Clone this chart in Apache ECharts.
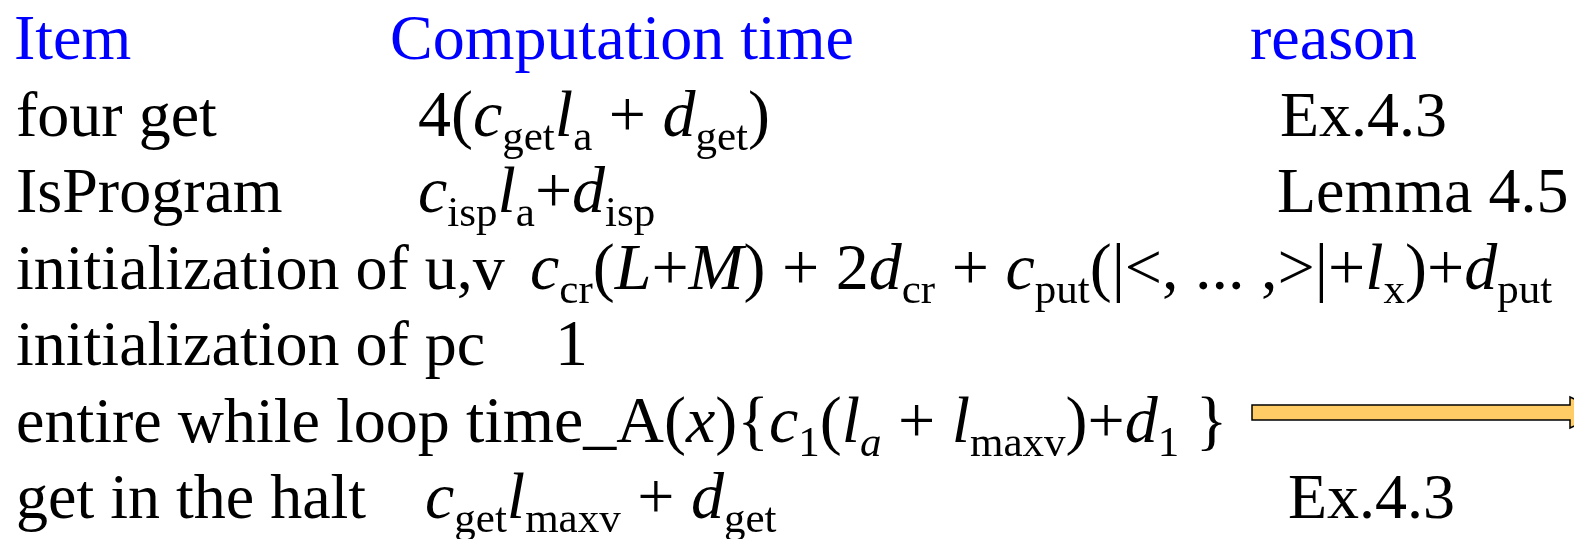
<!DOCTYPE html>
<html>
<head>
<meta charset="utf-8">
<title>Computation time table</title>
<script src="https://cdn.jsdelivr.net/npm/echarts@6/dist/echarts.min.js"></script>
<style>
    html, body { margin: 0; padding: 0; background: #fff; }
    #main { width: 1574px; height: 539px; }
</style>
</head>
<body>
<div id="main"></div>
<script>
// Table content
var headers = ['Item', 'Computation time', 'reason'];

var items = [
    'four get',
    'IsProgram',
    'initialization of u,v',
    'initialization of pc',
    'entire while loop',
    'get in the halt'
];

// formula pieces: [text, kind]  r = roman, i = italic, s = subscript
var times = [
    [['4(', 'r'], ['c', 'i'], ['get', 's'], ['l', 'i'], ['a', 's'], [' + ', 'r'], ['d', 'i'], ['get', 's'], [')', 'r']],
    [['c', 'i'], ['isp', 's'], ['l', 'i'], ['a', 's'], ['+', 'r'], ['d', 'i'], ['isp', 's']],
    [['c', 'i'], ['cr', 's'], ['(', 'r'], ['L', 'i'], ['+', 'r'], ['M', 'i'], [') + 2', 'r'], ['d', 'i'], ['cr', 's'],
        [' + ', 'r'], ['c', 'i'], ['put', 's'], ['(|<, ... ,>|+', 'r'], ['l', 'i'], ['x', 's'], [')+', 'r'], ['d', 'i'], ['put', 's']],
    [['1', 'r']],
    [['time_A(', 'r'], ['x', 'i'], ['){', 'r'], ['c', 'i'], ['1', 's'], ['(', 'r'], ['l', 'i'], ['a', 'si'], [' + ', 'r'],
        ['l', 'i'], ['maxv', 's'], [')+', 'r'], ['d', 'i'], ['1', 's'], [' }', 'r']],
    [['c', 'i'], ['get', 's'], ['l', 'i'], ['maxv', 's'], [' + ', 'r'], ['d', 'i'], ['get', 's']]
];

var reasons = ['Ex.4.3', 'Lemma 4.5', '', '', '', 'Ex.4.3'];

// Layout
var FAMILY = "'Liberation Serif', 'Times New Roman', serif";
var TEXT_SIZE = 64;
var FORMULA_SIZE = 66;
var SUB_SIZE = 43;
var SUB_DROP = 14;
var headerX = [14, 390, 1250];
var itemX = 16;
var timeX = [418, 418, 530, 555, 466, 425];
var reasonX = [1280, 1277, 0, 0, 0, 1288];
var firstBaseline = 59;
var rowStep = 76.5;

var measureCtx = document.createElement('canvas').getContext('2d');

function fontFor(kind) {
    var italic = kind === 'i' || kind === 'si';
    var size = (kind === 's' || kind === 'si') ? SUB_SIZE : FORMULA_SIZE;
    return (italic ? 'italic ' : '') + size + 'px ' + FAMILY;
}

function textWidth(text, font) {
    measureCtx.font = font;
    return measureCtx.measureText(text).width;
}

// zrender draws with textBaseline 'middle', so shift it to sit on the baseline
function middleToBaseline(font) {
    measureCtx.font = font;
    measureCtx.textBaseline = 'middle';
    return measureCtx.measureText('H').actualBoundingBoxDescent;
}

function textEl(text, x, baseline, font, color) {
    return {
        type: 'text',
        x: x,
        y: baseline - middleToBaseline(font),
        silent: true,
        style: {
            text: text,
            font: font,
            fill: color,
            align: 'left',
            verticalAlign: 'middle'
        }
    };
}

function buildGraphics() {
    var els = [];
    var font = TEXT_SIZE + 'px ' + FAMILY;

    headers.forEach(function(h, i) {
        els.push(textEl(h, headerX[i], firstBaseline, font, '#0000ff'));
    });

    items.forEach(function(item, r) {
        var baseline = firstBaseline + rowStep * (r + 1);
        els.push(textEl(item, itemX, baseline, font, '#000'));

        var cursor = timeX[r];
        times[r].forEach(function(piece) {
            var f = fontFor(piece[1]);
            var isSub = piece[1] === 's' || piece[1] === 'si';
            els.push(textEl(piece[0], cursor, baseline + (isSub ? SUB_DROP : 0), f, '#000'));
            cursor += textWidth(piece[0], f);
        });

        if (reasons[r]) {
            els.push(textEl(reasons[r], reasonX[r], baseline, font, '#000'));
        }
    });

    // block arrow pointing off to the right on the while-loop row
    var ay = firstBaseline + rowStep * 5 - 29;
    els.push({
        type: 'polygon',
        silent: true,
        shape: {
            points: [
                [1252, ay - 7.5], [1570, ay - 7.5], [1570, ay - 15.5], [1602, ay],
                [1570, ay + 15.5], [1570, ay + 7.5], [1252, ay + 7.5]
            ]
        },
        style: { fill: '#ffcc66', stroke: '#000', lineWidth: 1.5 }
    });

    return els;
}

var chart = echarts.init(document.getElementById('main'), null, { renderer: 'canvas' });
chart.setOption({
    backgroundColor: '#fff',
    animation: false,
    graphic: { elements: buildGraphics() }
});

window.addEventListener('resize', function() {
    chart.resize();
});
</script>
</body>
</html>
